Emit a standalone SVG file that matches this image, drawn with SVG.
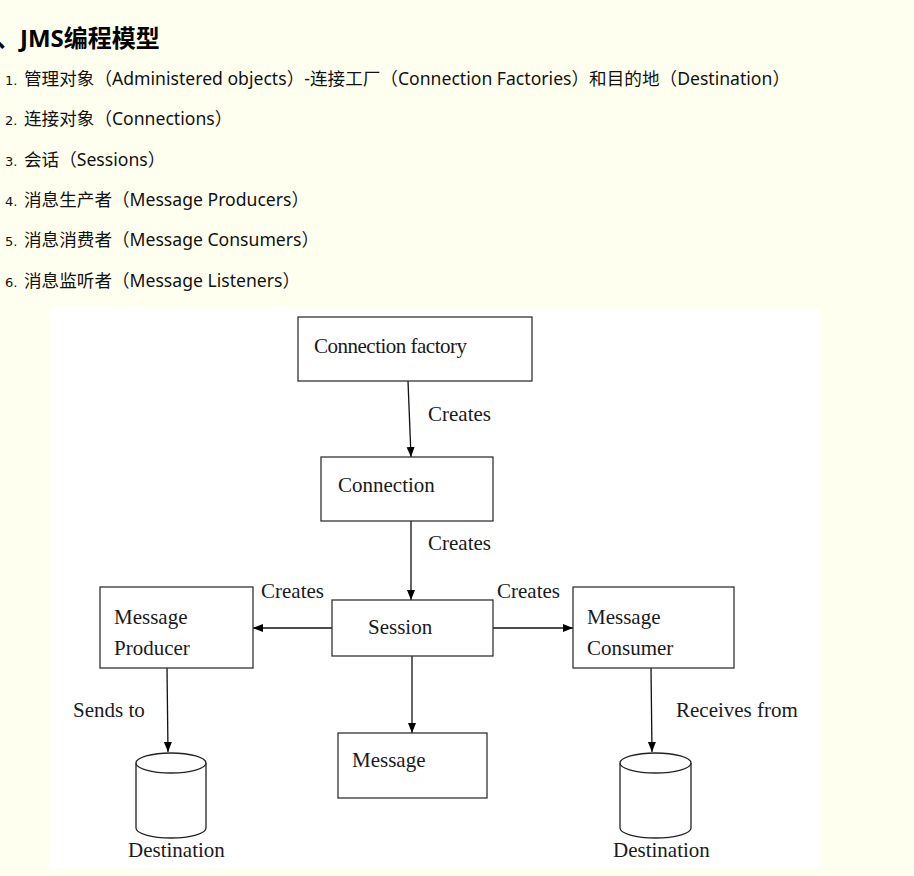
<svg xmlns="http://www.w3.org/2000/svg" width="914" height="876" viewBox="0 0 914 876">
<style>
.title{font-family:"Noto Sans","Noto Sans CJK SC",sans-serif;font-size:24px;font-weight:bold;fill:#000}
.li{font-family:"Noto Sans","Noto Sans CJK SC",sans-serif;font-size:17.6px;fill:#111}
.num{font-family:"DejaVu Sans",sans-serif;font-size:13px;fill:#111}
.box{fill:#fff;stroke:#333;stroke-width:1.3}
.cyl{fill:#fff;stroke:#222;stroke-width:1.3}
.t{font-family:"Liberation Serif",serif;font-size:21px;fill:#1a1a1a}
.edge{stroke:#111;stroke-width:1.3;fill:none;marker-end:url(#ah)}
</style>
<defs>
<marker id="ah" viewBox="0 0 10 10" refX="10" refY="5" markerWidth="10" markerHeight="10" markerUnits="userSpaceOnUse" orient="auto">
<path d="M0,1 L10,5 L0,9 Z" fill="#000"/>
</marker>
</defs>
<rect x="0" y="0" width="914" height="876" fill="#fffff0"/>
<g id="header">
<text class="title" x="-4" y="47">、JMS编程模型</text>
<text class="num" x="5" y="85">1.</text><text class="li" x="24" y="85" textLength="766">管理对象（Administered objects）-连接工厂（Connection Factories）和目的地（Destination）</text>
<text class="num" x="5" y="125">2.</text><text class="li" x="24" y="125">连接对象（Connections）</text>
<text class="num" x="5" y="166">3.</text><text class="li" x="24" y="166">会话（Sessions）</text>
<text class="num" x="5" y="206">4.</text><text class="li" x="24" y="206">消息生产者（Message Producers）</text>
<text class="num" x="5" y="246">5.</text><text class="li" x="24" y="246">消息消费者（Message Consumers）</text>
<text class="num" x="5" y="287">6.</text><text class="li" x="24" y="287">消息监听者（Message Listeners）</text>
</g>
<rect x="50" y="307" width="769" height="561" fill="#fff"/>
<g id="connectors">
<line class="edge" x1="408" y1="381" x2="411" y2="457"/>
<line class="edge" x1="411" y1="521" x2="411" y2="600"/>
<line class="edge" x1="332" y1="628" x2="253" y2="628"/>
<line class="edge" x1="493" y1="628" x2="573" y2="628"/>
<line class="edge" x1="412" y1="656" x2="412" y2="733"/>
<line class="edge" x1="167" y1="668" x2="168" y2="752"/>
<line class="edge" x1="651" y1="668" x2="652" y2="752"/>
<text class="t" x="428" y="421">Creates</text>
<text class="t" x="428" y="550">Creates</text>
<text class="t" x="261" y="598">Creates</text>
<text class="t" x="497" y="598">Creates</text>
<text class="t" x="73" y="717">Sends to</text>
<text class="t" x="676" y="717">Receives from</text>
</g>
<g id="connection-factory">
<rect class="box" x="298" y="317" width="234" height="64"/>
<text class="t" x="314" y="353" textLength="153">Connection factory</text>
</g>
<g id="connection">
<rect class="box" x="321" y="457" width="172" height="64"/>
<text class="t" x="338" y="492">Connection</text>
</g>
<g id="session">
<rect class="box" x="332" y="600" width="161" height="56"/>
<text class="t" x="368" y="634">Session</text>
</g>
<g id="message-producer">
<rect class="box" x="100" y="587" width="153" height="81"/>
<text class="t" x="114" y="624">Message</text>
<text class="t" x="114" y="655">Producer</text>
</g>
<g id="message-consumer">
<rect class="box" x="573" y="587" width="161" height="81"/>
<text class="t" x="587" y="624">Message</text>
<text class="t" x="587" y="655">Consumer</text>
</g>
<g id="message">
<rect class="box" x="338" y="733" width="149" height="65"/>
<text class="t" x="352" y="767">Message</text>
</g>
<g id="destination-left">
<path class="cyl" d="M136,763 A35,10 0 0 1 206,763 L206,828 A35,10 0 0 1 136,828 Z"/>
<path class="cyl" fill="none" d="M136,763 A35,10 0 0 0 206,763"/>
<text class="t" x="128" y="857">Destination</text>
</g>
<g id="destination-right">
<path class="cyl" d="M620,763 A35.5,10 0 0 1 691,763 L691,828 A35.5,10 0 0 1 620,828 Z"/>
<path class="cyl" fill="none" d="M620,763 A35.5,10 0 0 0 691,763"/>
<text class="t" x="613" y="857">Destination</text>
</g>
</svg>
